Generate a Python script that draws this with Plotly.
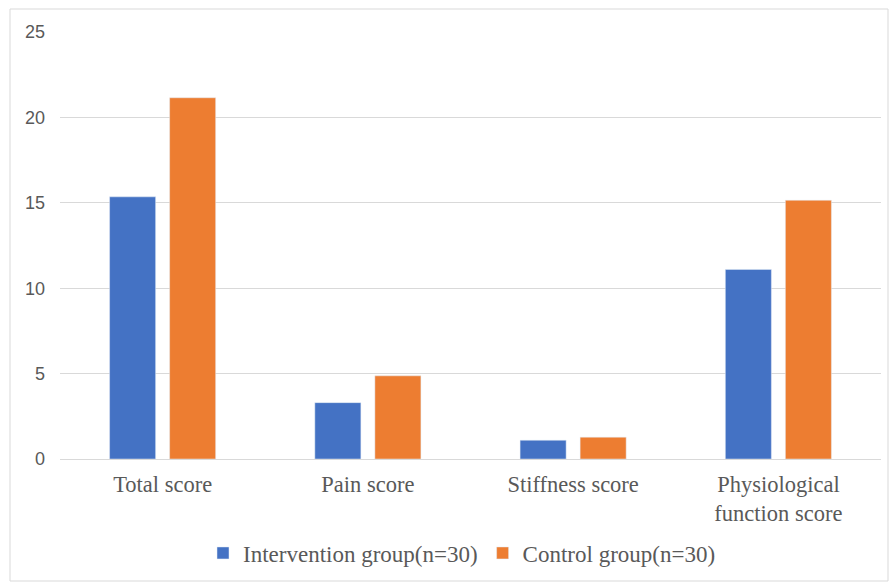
import plotly.graph_objects as go

categories = ["Total score", "Pain score", "Stiffness score", "Physiological<br>function score"]
intervention = [15.35, 3.3, 1.1, 11.1]
control = [21.15, 4.87, 1.28, 15.15]
series_names = ["Intervention group(n=30)", "Control group(n=30)"]
y_ticks = [0, 5, 10, 15, 20, 25]

fig = go.Figure()
fig.add_trace(go.Bar(x=categories, y=intervention, name=series_names[0], marker_color="#4472C4"))
fig.add_trace(go.Bar(x=categories, y=control, name=series_names[1], marker_color="#ED7D31"))

W, H = 890, 585
l, r, t, b = 60, 9, 32, 126
pw, ph = W - l - r, H - t - b

def px_x(p):
    return (p - l) / pw

def px_y(p):
    return (H - b - p) / ph

fig.update_layout(
    width=W, height=H,
    margin=dict(l=l, r=r, t=t, b=b),
    paper_bgcolor="white", plot_bgcolor="white",
    barmode="group", bargap=0.415, bargroupgap=0.233,
    showlegend=True,
    legend=dict(orientation="h", x=px_x(462), xanchor="center", y=px_y(553), yanchor="middle",
                font=dict(family="Liberation Serif", size=23, color="#595959"),
                itemwidth=30, traceorder="normal"),
    xaxis=dict(showgrid=False, showline=False, ticks="", ticklabelstandoff=9,
               tickfont=dict(family="Liberation Serif", size=22.5, color="#595959")),
    yaxis=dict(range=[0, 25], tickvals=y_ticks, showgrid=True, gridcolor="#D9D9D9", gridwidth=1,
               zeroline=True, zerolinecolor="#D9D9D9", zerolinewidth=1, showline=False,
               ticks="", ticklabelstandoff=14,
               tickfont=dict(family="Liberation Sans", size=18, color="#595959")),
    shapes=[dict(type="rect", xref="paper", yref="paper",
                 x0=px_x(10), x1=px_x(888), y0=px_y(581), y1=px_y(9),
                 line=dict(color="#D9D9D9", width=1), fillcolor="rgba(0,0,0,0)", layer="below")],
)

fig.write_html("out.html")
